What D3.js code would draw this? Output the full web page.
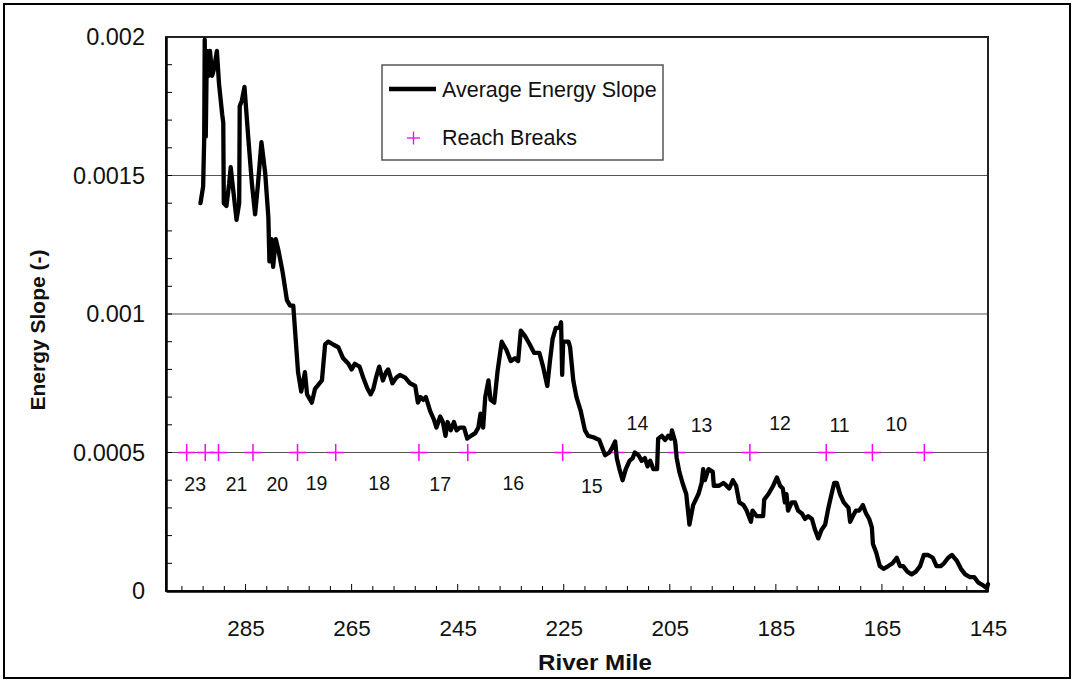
<!DOCTYPE html>
<html>
<head>
<meta charset="utf-8">
<script src="https://cdn.jsdelivr.net/npm/d3@7"></script>
<style>
  body { margin: 0; background: #fff; }
  svg { display: block; font-family: "Liberation Sans", Arial, sans-serif; }
</style>
</head>
<body>
<svg id="chart" width="1074" height="681"></svg>
<script>
// River mile of each energy-slope reading (upstream on the left)
const riverMile = [
  293.5,293.0,292.8,292.7,292.5,292.3,292.0,291.7,291.3,291.0,290.4,290.0,289.4,289.2,289.1,288.6,288.1,287.8,287.4,286.7,
  286.2,286.1,285.7,285.2,284.5,283.8,283.2,282.7,282.0,281.3,280.7,280.5,280.1,279.8,279.3,278.8,278.0,277.2,276.6,276.0,
  275.4,275.1,274.5,273.8,273.4,272.5,271.9,270.6,270.0,269.4,268.5,267.5,266.6,265.6,265.0,264.4,263.5,262.8,262.0,261.4,
  260.9,260.4,259.8,259.1,258.5,258.1,257.3,256.6,255.9,254.9,254.0,253.0,252.5,252.0,251.5,251.0,250.2,249.5,249.0,248.3,
  247.8,247.3,246.9,246.3,245.7,245.2,244.6,243.8,243.2,242.5,241.7,241.1,240.7,240.2,239.8,239.2,238.8,238.1,237.5,236.7,
  235.8,235.0,234.2,233.6,233.1,232.3,231.4,230.6,229.6,228.9,228.1,227.6,227.1,226.5,225.8,225.5,225.3,225.1,224.1,223.8,
  223.2,222.6,221.8,221.0,220.4,219.4,218.3,217.8,217.2,216.4,215.8,215.3,215.0,214.5,213.9,213.3,212.6,212.0,211.6,210.9,
  210.3,209.7,209.2,208.7,208.1,207.4,207.2,206.5,205.9,205.3,204.8,204.6,204.0,203.7,203.2,202.6,201.9,201.3,200.6,199.6,
  199.0,198.7,198.4,197.7,196.9,196.7,195.7,194.9,194.3,193.8,193.1,192.5,191.9,191.1,190.5,189.7,189.4,188.6,188.0,187.4,
  187.2,186.4,185.5,184.8,184.2,183.7,183.3,183.0,182.7,182.0,181.4,180.8,180.1,179.5,178.9,178.2,177.6,177.0,176.4,175.7,
  175.1,174.5,174.0,173.5,172.9,172.2,171.3,171.0,170.5,169.9,169.3,168.6,168.0,167.4,166.9,166.7,166.1,165.4,164.7,163.8,
  163.0,162.2,161.6,161.0,160.2,159.4,158.6,157.8,157.1,156.3,155.4,154.7,153.9,153.3,152.5,151.8,150.9,150.1,149.3,148.4,
  147.6,146.8,145.9,145.2,145.0
];

// Average energy slope (-) at each river mile
const energySlope = [
  0.00140,0.00146,0.00163,0.00199,0.00164,0.00195,0.00186,0.00195,0.00186,0.00188,0.00195,0.00183,0.00172,0.00169,0.00140,0.00139,0.00147,0.00153,0.00146,0.00134,
  0.00140,0.00175,0.00177,0.00182,0.00164,0.00147,0.00136,0.00146,0.00162,0.00151,0.00135,0.00119,0.00127,0.00117,0.00127,0.00123,0.00115,0.00105,0.00103,0.00103,
  0.00087,0.00079,0.00072,0.00079,0.00071,0.00068,0.00073,0.00076,0.00089,0.00090,0.00089,0.00088,0.00084,0.00082,0.00080,0.00082,0.00081,0.00077,0.00073,0.00071,
  0.00073,0.00077,0.00081,0.00076,0.00079,0.00080,0.00075,0.00077,0.00078,0.00077,0.00075,0.00074,0.00068,0.00070,0.00069,0.00070,0.00065,0.00062,0.00059,0.00063,
  0.00061,0.00056,0.00061,0.00058,0.00061,0.00058,0.00059,0.00059,0.00055,0.00056,0.00057,0.00059,0.00064,0.00059,0.00070,0.00076,0.00069,0.00068,0.00079,0.00090,
  0.00087,0.00083,0.00084,0.00083,0.00094,0.00092,0.00089,0.00086,0.00086,0.00081,0.00074,0.00083,0.00091,0.00095,0.00095,0.00097,0.00078,0.00090,0.00090,0.00088,
  0.00076,0.00070,0.00065,0.00058,0.00056,0.000555,0.000545,0.00052,0.00049,0.00050,0.00052,0.00054,0.00048,0.00044,0.00040,0.00044,0.00047,0.00048,0.00050,0.00049,
  0.00047,0.00048,0.00045,0.00047,0.00044,0.00044,0.00055,0.00056,0.000545,0.00056,0.00055,0.00058,0.00054,0.00048,0.00043,0.00039,0.00035,0.00024,0.00031,0.00035,
  0.00039,0.00044,0.00040,0.00044,0.00043,0.00038,0.00038,0.00039,0.00038,0.00037,0.00040,0.00038,0.00032,0.00031,0.00029,0.00025,0.00029,0.00027,0.00027,0.00027,
  0.00033,0.00035,0.00038,0.00041,0.00038,0.00037,0.00032,0.00035,0.00029,0.00032,0.00032,0.00029,0.00028,0.00026,0.00027,0.00026,0.00022,0.00019,0.00022,0.00024,
  0.00030,0.00035,0.00039,0.00039,0.00035,0.00032,0.00030,0.00025,0.00027,0.00029,0.00029,0.00031,0.00028,0.00026,0.00023,0.00017,0.00014,0.00009,0.00008,0.00009,
  0.00010,0.00012,0.00009,0.00009,0.00007,0.00006,0.00007,0.00009,0.00013,0.00013,0.00012,0.00009,0.00009,0.00010,0.00012,0.00013,0.00011,0.00008,0.00006,0.00005,
  0.00005,0.00003,0.00002,0.00001,0.000025
];

// Reach break locations, all plotted along the 0.0005 line
const reachBreakMiles = [296.1, 292.6, 290.1, 283.6, 275.2, 268.0, 252.3, 243.1, 225.2, 215.1, 203.7, 189.9, 175.5, 166.8, 157.0];
const reachBreakSlope = 0.0005;

// Reach numbers written between the breaks
const reachNames      = ["23", "21", "20", "19", "18", "17", "16", "15", "14", "13", "12", "11", "10"];
const reachNameMiles  = [294.5, 286.7, 279.0, 271.6, 259.8, 248.3, 234.5, 219.7, 211.1, 199.0, 184.2, 173.0, 162.3];
const reachNameSlopes = [0.000386, 0.000386, 0.000386, 0.000389, 0.000389, 0.000386, 0.000389, 0.000379,
                         0.000606, 0.000600, 0.000606, 0.000599, 0.000603];

// Axis ticks
const xTickValues  = [285, 265, 245, 225, 205, 185, 165, 145];
const xMinorTicks  = d3.range(145, 300, 4);
const yTickValues  = [0, 0.0005, 0.001, 0.0015, 0.002];
const yTickLabels  = ["0", "0.0005", "0.001", "0.0015", "0.002"];
const yMinorTicks  = d3.range(1, 20).map(i => i * 0.0001);
const yGridValues  = [0.0005, 0.001, 0.0015];

const svg = d3.select("#chart");
const plotLeft = 166, plotRight = 988, plotTop = 37, plotBottom = 591;

const x = d3.scaleLinear().domain([300, 145]).range([plotLeft, plotRight]);
const y = d3.scaleLinear().domain([0, 0.002]).range([plotBottom, plotTop]);

// Outer frame
svg.append("rect")
  .attr("x", 4).attr("y", 4).attr("width", 1066).attr("height", 674)
  .attr("fill", "#fff").attr("stroke", "#000").attr("stroke-width", 2);

// Horizontal gridlines
svg.append("g").selectAll("line").data(yGridValues).join("line")
  .attr("x1", plotLeft).attr("x2", plotRight)
  .attr("y1", d => y(d)).attr("y2", d => y(d))
  .attr("stroke", "#555").attr("stroke-width", 1.2);

// Plot box
svg.append("rect")
  .attr("x", plotLeft).attr("y", plotTop)
  .attr("width", plotRight - plotLeft).attr("height", plotBottom - plotTop)
  .attr("fill", "none").attr("stroke", "#222").attr("stroke-width", 2);

// Y axis: labels plus inside minor ticks
const yAxis = d3.axisLeft(y).tickValues(yTickValues)
  .tickFormat((d, i) => yTickLabels[i]).tickSize(0).tickPadding(21);
const gy = svg.append("g").attr("transform", `translate(${plotLeft},0)`).call(yAxis);
gy.select(".domain").attr("stroke", "#000").attr("stroke-width", 2.5);
gy.selectAll("text").attr("font-size", 23.5).attr("fill", "#111")
  .attr("font-family", "'Liberation Sans', Arial, sans-serif");

svg.append("g").selectAll("line").data(yMinorTicks).join("line")
  .attr("x1", plotLeft).attr("x2", plotLeft + 6)
  .attr("y1", d => y(d)).attr("y2", d => y(d))
  .attr("stroke", "#000").attr("stroke-width", 1);

// X axis: labels, inside major and minor ticks
const xAxis = d3.axisBottom(x).tickValues(xTickValues).tickSize(0).tickPadding(29);
const gx = svg.append("g").attr("transform", `translate(0,${plotBottom})`).call(xAxis);
gx.select(".domain").attr("stroke", "#000").attr("stroke-width", 2.5);
gx.selectAll("text").attr("font-size", 22.5).attr("fill", "#111")
  .attr("font-family", "'Liberation Sans', Arial, sans-serif");

svg.append("g").selectAll("line").data(xMinorTicks).join("line")
  .attr("x1", d => x(d)).attr("x2", d => x(d))
  .attr("y1", plotBottom).attr("y2", d => plotBottom - (xTickValues.includes(d) ? 7 : 5))
  .attr("stroke", "#000").attr("stroke-width", 1);

// Axis titles
svg.append("text")
  .attr("x", 595).attr("y", 670)
  .attr("text-anchor", "middle").attr("font-weight", "bold").attr("font-size", 22)
  .attr("textLength", 114).attr("lengthAdjust", "spacingAndGlyphs")
  .attr("fill", "#111").text("River Mile");
svg.append("text")
  .attr("transform", "translate(45,330) rotate(-90)")
  .attr("text-anchor", "middle").attr("font-weight", "bold").attr("font-size", 21)
  .attr("fill", "#111").text("Energy Slope (-)");

// Reach break markers
const plusSize = 8.5;
const breaks = svg.append("g").attr("stroke", "#ff00ff").attr("stroke-width", 1.5);
reachBreakMiles.forEach(m => {
  const cx = x(m), cy = y(reachBreakSlope);
  breaks.append("line").attr("x1", cx - plusSize).attr("x2", cx + plusSize).attr("y1", cy).attr("y2", cy);
  breaks.append("line").attr("x1", cx).attr("x2", cx).attr("y1", cy - plusSize).attr("y2", cy + plusSize);
});

// Reach numbers
svg.append("g").selectAll("text").data(reachNames).join("text")
  .attr("x", (d, i) => x(reachNameMiles[i]))
  .attr("y", (d, i) => y(reachNameSlopes[i]))
  .attr("dy", "0.36em").attr("text-anchor", "middle")
  .attr("font-size", 19.5).attr("fill", "#111").text(d => d);

// Energy slope profile
const profile = d3.zip(riverMile, energySlope);
svg.append("path")
  .datum(profile)
  .attr("fill", "none").attr("stroke", "#000").attr("stroke-width", 4.3)
  .attr("stroke-linejoin", "round").attr("stroke-linecap", "round")
  .attr("d", d3.line().x(d => x(d[0])).y(d => y(d[1])));

// Legend
const lg = svg.append("g");
lg.append("rect").attr("x", 382).attr("y", 65).attr("width", 281).attr("height", 95)
  .attr("fill", "#fff").attr("stroke", "#555").attr("stroke-width", 1.5);
lg.append("line").attr("x1", 389).attr("x2", 436).attr("y1", 89).attr("y2", 89)
  .attr("stroke", "#000").attr("stroke-width", 4.3);
lg.append("text").attr("x", 442).attr("y", 89).attr("dy", "0.36em")
  .attr("font-size", 21.5).attr("fill", "#111").text("Average Energy Slope");
lg.append("line").attr("x1", 407).attr("x2", 420).attr("y1", 138).attr("y2", 138)
  .attr("stroke", "#ff00ff").attr("stroke-width", 1.3);
lg.append("line").attr("x1", 413.5).attr("x2", 413.5).attr("y1", 131.5).attr("y2", 144.5)
  .attr("stroke", "#ff00ff").attr("stroke-width", 1.3);
lg.append("text").attr("x", 442).attr("y", 137).attr("dy", "0.36em")
  .attr("font-size", 21.5).attr("fill", "#111").text("Reach Breaks");
</script>
</body>
</html>
